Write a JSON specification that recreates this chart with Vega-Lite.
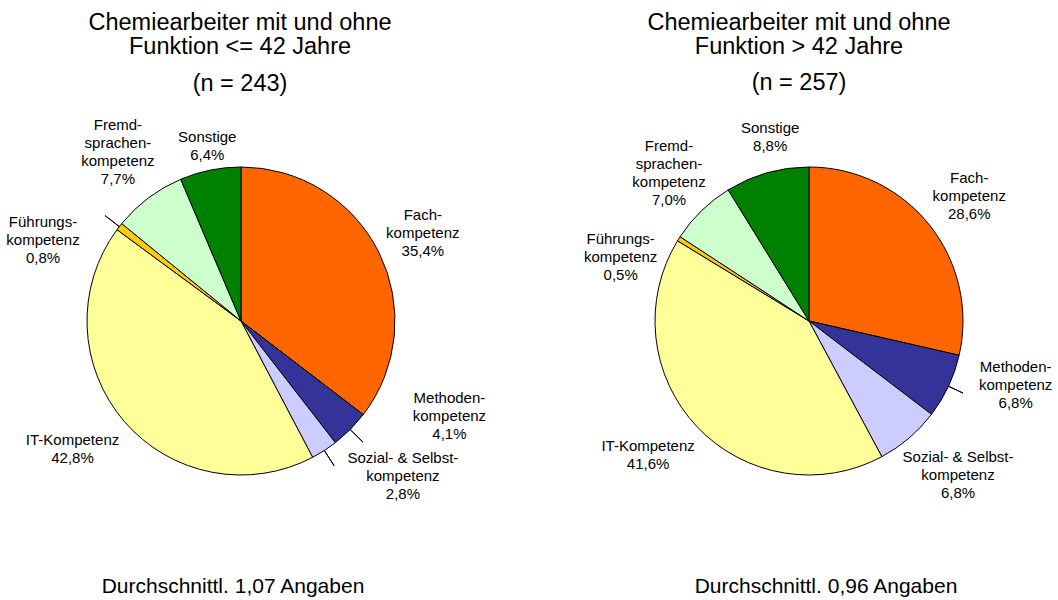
{
  "$schema": "https://vega.github.io/schema/vega-lite/v6.json",
  "background": "white",
  "padding": {"left": 5, "top": 10, "right": 0, "bottom": 0},
  "spacing": 44,
  "config": {
    "view": {"stroke": null},
    "font": "Liberation Sans",
    "text": {"fontSize": 15, "lineHeight": 18, "lineBreak": "\n", "align": "center", "baseline": "middle", "color": "#000000"},
    "title": {"font": "Liberation Sans", "subtitleFont": "Liberation Sans", "fontWeight": "normal", "color": "#000000", "subtitleColor": "#000000", "anchor": "middle", "frame": "group"}
  },
  "vconcat": [
    {
      "spacing": 85,
      "hconcat": [
        {
          "title": {"text": ["Chemiearbeiter mit und ohne", "Funktion <= 42 Jahre"], "subtitle": "(n = 243)", "fontSize": 23.5, "lineHeight": 24, "subtitleFontSize": 23.5, "subtitlePadding": 13, "offset": -50, "dx": -1},
          "width": 472,
          "height": 422,
          "data": {"values": [
            {"k": "Fach", "o": 1, "v": 35.4, "label": "Fach-\nkompetenz\n35,4%"},
            {"k": "Methoden", "o": 2, "v": 4.1, "label": "Methoden-\nkompetenz\n4,1%"},
            {"k": "Sozial", "o": 3, "v": 2.8, "label": "Sozial- & Selbst-\nkompetenz\n2,8%"},
            {"k": "IT", "o": 4, "v": 42.8, "label": "IT-Kompetenz\n42,8%"},
            {"k": "Führung", "o": 5, "v": 0.8, "label": "Führungs-\nkompetenz\n0,8%"},
            {"k": "Fremd", "o": 6, "v": 7.7, "label": "Fremd-\nsprachen-\nkompetenz\n7,7%"},
            {"k": "Sonstige", "o": 7, "v": 6.4, "label": "Sonstige\n6,4%"}
          ]},
          "encoding": {
            "theta": {"field": "v", "type": "quantitative", "stack": true},
            "order": {"field": "o", "type": "quantitative"},
            "color": {"field": "k", "type": "nominal", "legend": null,
              "scale": {"domain": ["Fach", "Methoden", "Sozial", "IT", "Führung", "Fremd", "Sonstige"],
                        "range": ["#FF6600", "#333399", "#CCCCFF", "#FFFF99", "#FFCC00", "#CCFFCC", "#008000"]}}
          },
          "layer": [
            {"mark": {"type": "arc", "radius": 154, "stroke": "#000000", "strokeWidth": 1}},
            {"mark": {"type": "arc", "filled": false, "radius": 172, "radius2": 154, "padAngle": 1.2, "strokeWidth": 1},
             "encoding": {"color": {"value": "#000000"}, "detail": {"field": "k"},
               "strokeOpacity": {"condition": {"test": "indexof(['Führung','Methoden','Sozial'], datum.k) >= 0", "value": 1}, "value": 0}}},
            {"mark": {"type": "text", "radius": 205, "dx": -2, "dy": -15},
             "encoding": {"text": {"condition": {"test": "datum.k === 'Fach'", "field": "label"}, "value": ""}, "color": {"value": "#000000"}, "detail": {"field": "k"}}},
            {"mark": {"type": "text", "radius": 205, "dx": 63, "dy": -68},
             "encoding": {"text": {"condition": {"test": "datum.k === 'Methoden'", "field": "label"}, "value": ""}, "color": {"value": "#000000"}, "detail": {"field": "k"}}},
            {"mark": {"type": "text", "radius": 205, "dx": 51, "dy": -35},
             "encoding": {"text": {"condition": {"test": "datum.k === 'Sozial'", "field": "label"}, "value": ""}, "color": {"value": "#000000"}, "detail": {"field": "k"}}},
            {"mark": {"type": "text", "radius": 205, "dx": -13, "dy": -15},
             "encoding": {"text": {"condition": {"test": "datum.k === 'IT'", "field": "label"}, "value": ""}, "color": {"value": "#000000"}, "detail": {"field": "k"}}},
            {"mark": {"type": "text", "radius": 205, "dx": -36, "dy": 27},
             "encoding": {"text": {"condition": {"test": "datum.k === 'Führung'", "field": "label"}, "value": ""}, "color": {"value": "#000000"}, "detail": {"field": "k"}}},
            {"mark": {"type": "text", "radius": 205, "dx": 0, "dy": -32},
             "encoding": {"text": {"condition": {"test": "datum.k === 'Fremd'", "field": "label"}, "value": ""}, "color": {"value": "#000000"}, "detail": {"field": "k"}}},
            {"mark": {"type": "text", "radius": 184, "dx": 3, "dy": -4},
             "encoding": {"text": {"condition": {"test": "datum.k === 'Sonstige'", "field": "label"}, "value": ""}, "color": {"value": "#000000"}, "detail": {"field": "k"}}}
          ]
        },
        {
          "title": {"text": ["Chemiearbeiter mit und ohne", "Funktion > 42 Jahre"], "subtitle": "(n = 257)", "fontSize": 23.5, "lineHeight": 24, "subtitleFontSize": 23.5, "subtitlePadding": 13, "offset": -19, "dx": -10},
          "width": 472,
          "height": 422,
          "data": {"values": [
            {"k": "Fach", "o": 1, "v": 28.6, "label": "Fach-\nkompetenz\n28,6%"},
            {"k": "Methoden", "o": 2, "v": 6.8, "label": "Methoden-\nkompetenz\n6,8%"},
            {"k": "Sozial", "o": 3, "v": 6.8, "label": "Sozial- & Selbst-\nkompetenz\n6,8%"},
            {"k": "IT", "o": 4, "v": 41.6, "label": "IT-Kompetenz\n41,6%"},
            {"k": "Führung", "o": 5, "v": 0.5, "label": "Führungs-\nkompetenz\n0,5%"},
            {"k": "Fremd", "o": 6, "v": 7.0, "label": "Fremd-\nsprachen-\nkompetenz\n7,0%"},
            {"k": "Sonstige", "o": 7, "v": 8.8, "label": "Sonstige\n8,8%"}
          ]},
          "encoding": {
            "theta": {"field": "v", "type": "quantitative", "stack": true},
            "order": {"field": "o", "type": "quantitative"},
            "color": {"field": "k", "type": "nominal", "legend": null,
              "scale": {"domain": ["Fach", "Methoden", "Sozial", "IT", "Führung", "Fremd", "Sonstige"],
                        "range": ["#FF6600", "#333399", "#CCCCFF", "#FFFF99", "#FFCC00", "#CCFFCC", "#008000"]}}
          },
          "layer": [
            {"mark": {"type": "arc", "radius": 154, "stroke": "#000000", "strokeWidth": 1}},
            {"mark": {"type": "arc", "filled": false, "radius": 170, "radius2": 154, "padAngle": 1.2, "strokeWidth": 1},
             "encoding": {"color": {"value": "#000000"}, "detail": {"field": "k"},
               "strokeOpacity": {"condition": {"test": "datum.k === 'Methoden'", "value": 1}, "value": 0}}},
            {"mark": {"type": "text", "radius": 205, "dx": 0, "dy": -15},
             "encoding": {"text": {"condition": {"test": "datum.k === 'Fach'", "field": "label"}, "value": ""}, "color": {"value": "#000000"}, "detail": {"field": "k"}}},
            {"mark": {"type": "text", "radius": 205, "dx": 21, "dy": -41},
             "encoding": {"text": {"condition": {"test": "datum.k === 'Methoden'", "field": "label"}, "value": ""}, "color": {"value": "#000000"}, "detail": {"field": "k"}}},
            {"mark": {"type": "text", "radius": 205, "dx": 16, "dy": -20},
             "encoding": {"text": {"condition": {"test": "datum.k === 'Sozial'", "field": "label"}, "value": ""}, "color": {"value": "#000000"}, "detail": {"field": "k"}}},
            {"mark": {"type": "text", "radius": 205, "dx": -12, "dy": -16},
             "encoding": {"text": {"condition": {"test": "datum.k === 'IT'", "field": "label"}, "value": ""}, "color": {"value": "#000000"}, "detail": {"field": "k"}}},
            {"mark": {"type": "text", "radius": 205, "dx": -15, "dy": 27},
             "encoding": {"text": {"condition": {"test": "datum.k === 'Führung'", "field": "label"}, "value": ""}, "color": {"value": "#000000"}, "detail": {"field": "k"}}},
            {"mark": {"type": "text", "radius": 205, "dx": 3, "dy": -28},
             "encoding": {"text": {"condition": {"test": "datum.k === 'Fremd'", "field": "label"}, "value": ""}, "color": {"value": "#000000"}, "detail": {"field": "k"}}},
            {"mark": {"type": "text", "radius": 190, "dx": 13, "dy": -10},
             "encoding": {"text": {"condition": {"test": "datum.k === 'Sonstige'", "field": "label"}, "value": ""}, "color": {"value": "#000000"}, "detail": {"field": "k"}}}
          ]
        }
      ]
    },
    {
      "spacing": 96,
      "hconcat": [
        {
          "title": {"text": "Durchschnittl. 1,07 Angaben", "fontSize": 21, "baseline": "top", "offset": 0, "dx": -8},
          "width": 472,
          "height": 1,
          "data": {"values": []},
          "mark": {"type": "point", "opacity": 0},
          "encoding": {}
        },
        {
          "title": {"text": "Durchschnittl. 0,96 Angaben", "fontSize": 21, "baseline": "top", "offset": 0, "dx": 17},
          "width": 472,
          "height": 1,
          "data": {"values": []},
          "mark": {"type": "point", "opacity": 0},
          "encoding": {}
        }
      ]
    }
  ]
}
